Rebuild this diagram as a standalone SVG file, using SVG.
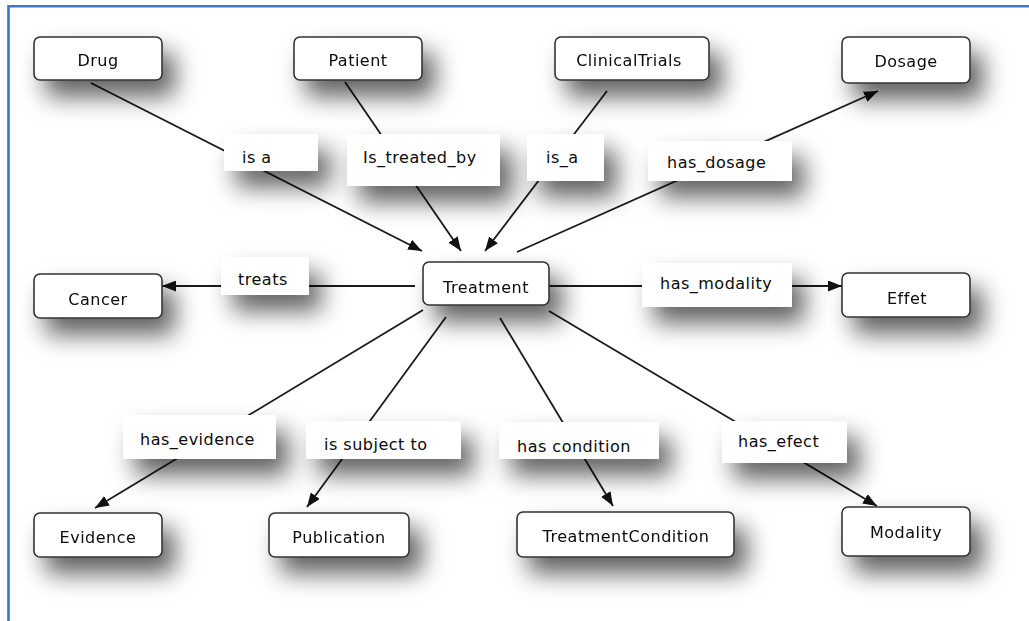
<svg xmlns="http://www.w3.org/2000/svg" width="1029" height="621" viewBox="0 0 1029 621">
  <style>
    .node rect { fill: #ffffff; stroke: #333333; stroke-width: 1.6; }
    .lbl rect { fill: #ffffff; stroke: none; }
    text { font-family: "DejaVu Sans", Verdana, sans-serif; font-size: 16px; letter-spacing: 0.5px; fill: #0a0a0a; }
    .node text { text-anchor: middle; }
    .edge line { stroke: #1a1a1a; stroke-width: 1.8; fill: none; }
    .arrow { marker-end: url(#head); }
    .frame { stroke: #4472c4; stroke-width: 2.6; fill: none; }
  </style>
  <defs>
    <filter id="shadow" x="-50%" y="-80%" width="220%" height="320%">
      <feDropShadow dx="12" dy="16" stdDeviation="12" flood-color="#000000" flood-opacity="0.62"/>
    </filter>
    <marker id="head" viewBox="0 0 14 11" refX="14" refY="5.5" markerWidth="14" markerHeight="11" markerUnits="userSpaceOnUse" orient="auto">
      <path d="M0,0 L14,5.5 L0,11 Z" fill="#111111"/>
    </marker>
  </defs>

  <rect width="1029" height="621" fill="#ffffff"/>
  <!-- page frame: top and left rules -->
  <path class="frame" d="M8.5,621 L8.5,6.3 L1029,6.3"/>

  <!-- connectors with their relation labels -->
  <g id="connectors">
    <g class="edge" id="e-drug">
      <line class="arrow" x1="91" y1="83" x2="422" y2="251"/>
    </g>
    <g class="edge" id="e-patient">
      <line class="arrow" x1="345" y1="82" x2="461" y2="251"/>
    </g>
    <g class="edge" id="e-trials">
      <line class="arrow" x1="607" y1="91" x2="485" y2="251"/>
    </g>
    <g class="edge" id="e-dosage">
      <line class="arrow" x1="517" y1="252" x2="878" y2="91"/>
    </g>
    <g class="edge" id="e-cancer">
      <line class="arrow" x1="415" y1="286" x2="162" y2="286"/>
    </g>
    <g class="edge" id="e-effet">
      <line class="arrow" x1="549" y1="286" x2="842" y2="286"/>
    </g>
    <g class="edge" id="e-evidence">
      <line class="arrow" x1="423" y1="310" x2="95" y2="508"/>
    </g>
    <g class="edge" id="e-publication">
      <line class="arrow" x1="446" y1="317" x2="307" y2="507"/>
    </g>
    <g class="edge" id="e-condition">
      <line class="arrow" x1="500" y1="318" x2="613" y2="506"/>
    </g>
    <g class="edge" id="e-modality">
      <line class="arrow" x1="549" y1="311" x2="877" y2="506"/>
    </g>

    <g class="lbl" filter="url(#shadow)">
      <rect x="224" y="134" width="94" height="37"/>
      <rect x="347" y="134" width="153" height="52"/>
      <rect x="527" y="134" width="77" height="47"/>
      <rect x="648" y="141" width="144" height="40"/>
      <rect x="221" y="257" width="88" height="38"/>
      <rect x="642" y="263" width="150" height="44"/>
      <rect x="123" y="415" width="153" height="44"/>
      <rect x="306" y="421" width="155" height="38"/>
      <rect x="499" y="422" width="160" height="37"/>
      <rect x="722" y="421" width="125" height="42"/>
    </g>
    <g class="lbl">
      <text x="242" y="163">is a</text>
      <text x="363" y="163">Is_treated_by</text>
      <text x="546" y="163">is_a</text>
      <text x="667" y="168">has_dosage</text>
      <text x="238" y="285">treats</text>
      <text x="660" y="289">has_modality</text>
      <text x="140" y="445">has_evidence</text>
      <text x="324" y="450">is subject to</text>
      <text x="517" y="452">has condition</text>
      <text x="738" y="447">has_efect</text>
    </g>
  </g>

  <!-- concept nodes -->
  <g id="drug" class="node" filter="url(#shadow)">
    <rect x="34" y="37" width="128" height="43" rx="6"/>
    <text x="98" y="66">Drug</text>
  </g>
  <g id="patient" class="node" filter="url(#shadow)">
    <rect x="294" y="37" width="128" height="43" rx="6"/>
    <text x="358" y="66">Patient</text>
  </g>
  <g id="clinicaltrials" class="node" filter="url(#shadow)">
    <rect x="555" y="37" width="154" height="43" rx="6"/>
    <text x="629" y="66">ClinicalTrials</text>
  </g>
  <g id="dosage" class="node" filter="url(#shadow)">
    <rect x="842" y="37" width="128" height="46" rx="6"/>
    <text x="906" y="67">Dosage</text>
  </g>
  <g id="cancer" class="node" filter="url(#shadow)">
    <rect x="34" y="274" width="128" height="44" rx="6"/>
    <text x="98" y="305">Cancer</text>
  </g>
  <g id="treatment" class="node" filter="url(#shadow)">
    <rect x="423" y="262" width="126" height="43" rx="6"/>
    <text x="486" y="293">Treatment</text>
  </g>
  <g id="effet" class="node" filter="url(#shadow)">
    <rect x="842" y="273" width="128" height="44" rx="6"/>
    <text x="907" y="304">Effet</text>
  </g>
  <g id="evidence" class="node" filter="url(#shadow)">
    <rect x="34" y="513" width="128" height="44" rx="6"/>
    <text x="98" y="543">Evidence</text>
  </g>
  <g id="publication" class="node" filter="url(#shadow)">
    <rect x="269" y="513" width="140" height="44" rx="6"/>
    <text x="339" y="543">Publication</text>
  </g>
  <g id="treatmentcondition" class="node" filter="url(#shadow)">
    <rect x="517" y="512" width="217" height="45" rx="6"/>
    <text x="626" y="542">TreatmentCondition</text>
  </g>
  <g id="modality" class="node" filter="url(#shadow)">
    <rect x="842" y="507" width="128" height="49" rx="6"/>
    <text x="906" y="538">Modality</text>
  </g>
</svg>
